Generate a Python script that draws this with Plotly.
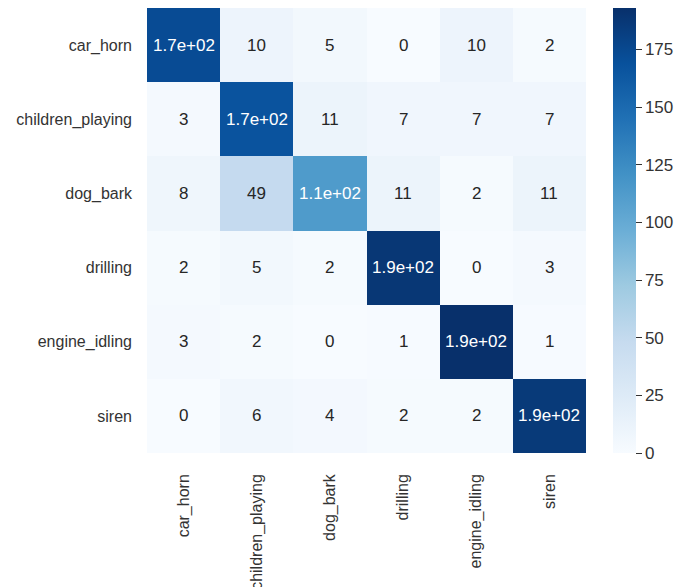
import plotly.graph_objects as go

labels = ["car_horn", "children_playing", "dog_bark", "drilling", "engine_idling", "siren"]
row_car_horn = [173, 10, 5, 0, 10, 2]
row_children_playing = [3, 167, 11, 7, 7, 7]
row_dog_bark = [8, 49, 113, 11, 2, 11]
row_drilling = [2, 5, 2, 188, 0, 3]
row_engine_idling = [3, 2, 0, 1, 193, 1]
row_siren = [0, 6, 4, 2, 2, 186]
matrix = [row_car_horn, row_children_playing, row_dog_bark, row_drilling, row_engine_idling, row_siren]
cbar_ticks = [0, 25, 50, 75, 100, 125, 150, 175]

blues = [
    [0.0, "rgb(247,251,255)"], [0.125, "rgb(222,235,247)"], [0.25, "rgb(198,219,239)"],
    [0.375, "rgb(158,202,225)"], [0.5, "rgb(107,174,214)"], [0.625, "rgb(66,146,198)"],
    [0.75, "rgb(33,113,181)"], [0.875, "rgb(8,81,156)"], [1.0, "rgb(8,48,107)"],
]

# page body has an 8px default margin, so figure coords are shifted by 8px
OFF = 8
L, R, T, B = 147 - OFF, 586 - OFF, 8 - OFF, 453 - OFF
W, H = 695, 587
zmax = max(max(r) for r in matrix)
text = [[f"{v:.2g}" for v in r] for r in matrix]
FONT = "Liberation Sans, Arial"

fig = go.Figure(go.Heatmap(
    z=matrix, x=labels, y=labels, colorscale=blues, zmin=0, zmax=zmax,
    colorbar=dict(
        thickness=23, len=1, lenmode="fraction", y=0, yanchor="bottom",
        x=(613 - 147) / (586 - 147), xanchor="left", xpad=0, ypad=0, outlinewidth=0,
        tickvals=cbar_ticks, ticks="outside", ticklen=6, tickwidth=1.3,
        tickcolor="#333", tickfont=dict(family=FONT, size=17, color="#333"),
    ),
    hoverinfo="skip",
))

for i, r in enumerate(matrix):
    for j, v in enumerate(r):
        color = "white" if v / zmax > 0.5 else "#262626"
        fig.add_annotation(x=labels[j], y=labels[i], text=text[i][j], showarrow=False,
                           font=dict(family=FONT, size=17, color=color))

fig.update_layout(
    width=W, height=H,
    margin=dict(l=L, r=W - R, t=T, b=H - B, autoexpand=False),
    paper_bgcolor="white", plot_bgcolor="white",
    xaxis=dict(tickangle=-90, showgrid=False, zeroline=False, ticks="", automargin=False,
               ticklabelstandoff=17,
               tickfont=dict(family=FONT, size=16, color="#333")),
    yaxis=dict(autorange="reversed", showgrid=False, zeroline=False, ticks="", automargin=False,
               ticklabelstandoff=14,
               tickfont=dict(family=FONT, size=16, color="#333")),
)

fig.write_html("out.html")
